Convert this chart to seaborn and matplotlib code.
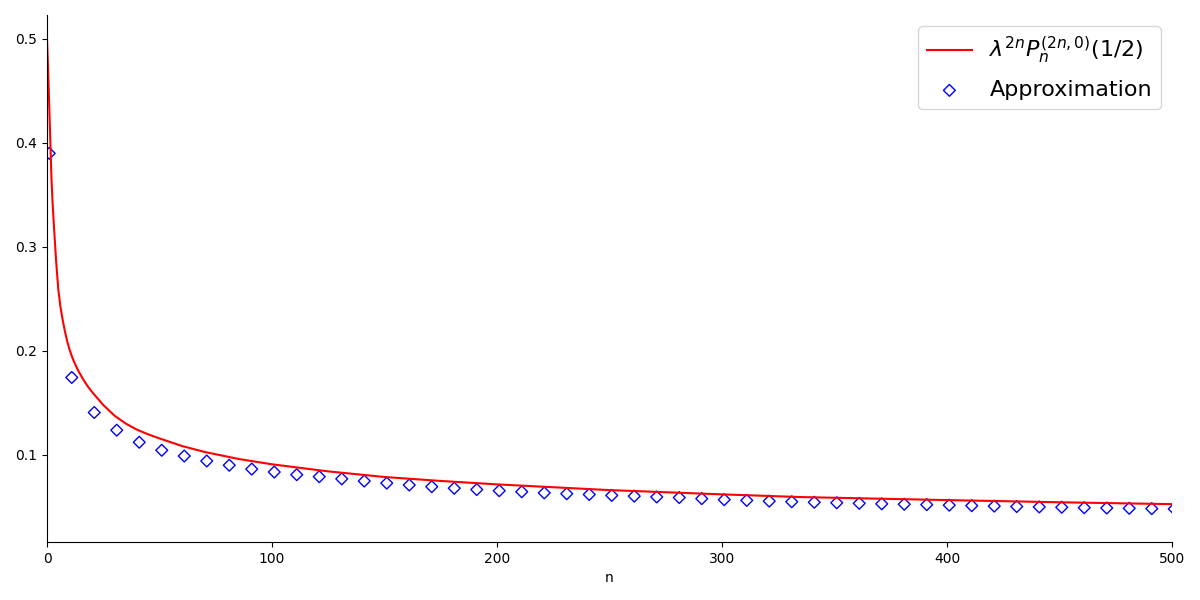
import matplotlib
matplotlib.use("Agg")
import matplotlib.pyplot as plt
import seaborn as sns
import pandas as pd

# Exact curve lambda^{2n} P_n^{(2n,0)}(1/2)
line_n = [0, 0.5, 1, 1.5, 2, 2.5, 3, 4, 5, 6, 7, 8, 9, 10, 11, 12, 13, 14, 16,
          18, 20, 22, 25, 30, 35, 40, 45, 50, 60, 70, 85,
          100, 125, 150, 175, 200, 250, 300, 335, 400, 450, 500]
line_v = [0.500, 0.470, 0.435, 0.400, 0.365, 0.342, 0.323, 0.288, 0.2597,
          0.242, 0.2295, 0.2185, 0.2091, 0.2015, 0.1951, 0.1897, 0.185,
          0.1805, 0.173, 0.1663, 0.1606, 0.1556, 0.148, 0.1378, 0.1302,
          0.1243, 0.1198, 0.1159, 0.1086, 0.1029, 0.0962, 0.0910, 0.0842,
          0.0788, 0.0750, 0.0717, 0.0662, 0.0621, 0.0595, 0.0566, 0.0545,
          0.0527]

# Approximation points (every 10th n, starting at 1)
approx_n = list(range(1, 502, 10))
approx_v = [0.390, 0.1745, 0.1408, 0.1238, 0.1122, 0.1045, 0.0990, 0.0942,
            0.0901, 0.0864, 0.0836, 0.0810, 0.0791, 0.0770, 0.0749, 0.0729,
            0.0711, 0.0695, 0.0680, 0.0667, 0.0656, 0.0646, 0.0635, 0.0627,
            0.0620, 0.0611, 0.0604, 0.0596, 0.0590, 0.0580, 0.0570, 0.0563,
            0.0556, 0.0550, 0.0545, 0.0540, 0.0535, 0.0530, 0.0526, 0.0522,
            0.0517, 0.0512, 0.0508, 0.0504, 0.0500, 0.0497, 0.0493, 0.0490,
            0.0487, 0.0484, 0.0481]

line_label = r'$\lambda^{2n}P_n^{(2n,0)}(1/2)$'
approx_label = 'Approximation'

df_line = pd.DataFrame({'n': line_n, 'v': line_v})
df_app = pd.DataFrame({'n': approx_n, 'v': approx_v})

fig, ax = plt.subplots(figsize=(12, 6), dpi=100)
fig.subplots_adjust(left=47/1200, right=1172/1200, top=1-15/600, bottom=1-542/600)

sns.lineplot(data=df_line, x='n', y='v', color='red', linewidth=1.5,
             label=line_label, ax=ax, estimator=None, sort=True)
sns.scatterplot(data=df_app, x='n', y='v', marker='D', s=36,
                facecolors='none', edgecolor='blue', linewidth=1.0,
                label=approx_label, ax=ax)

ax.set_xlim(0, 500)
ax.set_ylim(0.0163, 0.523)
ax.set_xlabel('n')
ax.set_ylabel('')
sns.despine(ax=ax)
ax.legend(loc='upper right', fontsize=16, labelspacing=0.63)

fig.savefig('out.png', dpi=100)
